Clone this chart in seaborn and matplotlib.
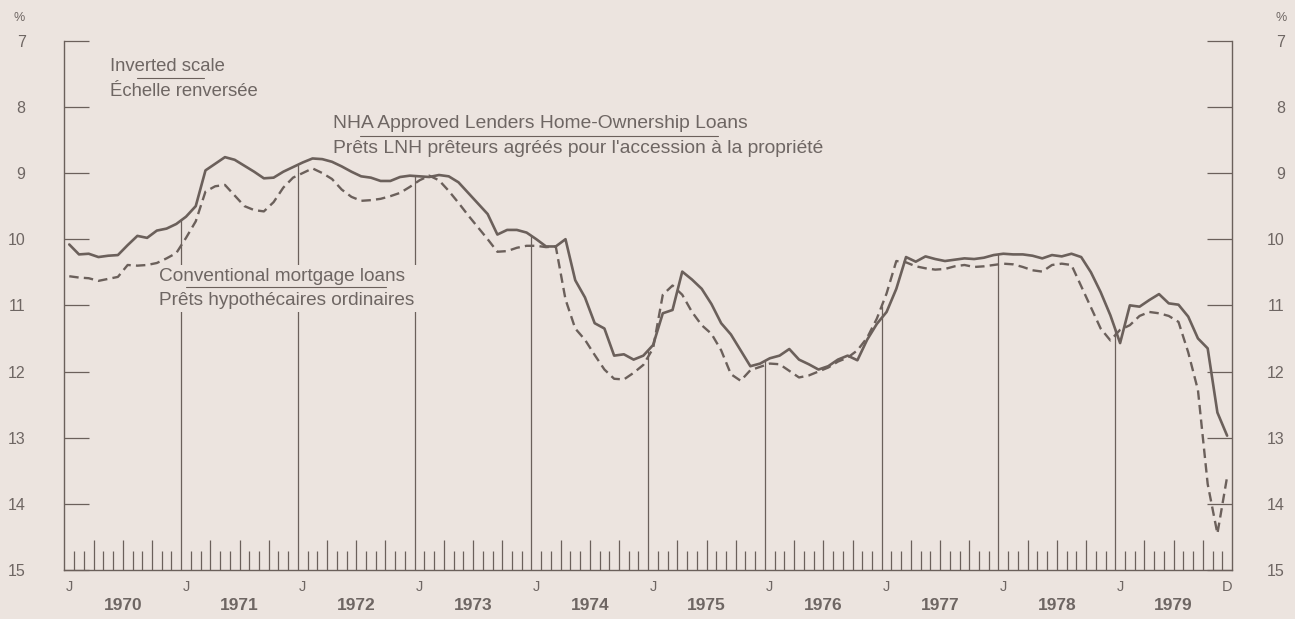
import numpy as np
import pandas as pd
import matplotlib
matplotlib.use('Agg')
import matplotlib.pyplot as plt
import seaborn as sns

# monthly rates, Jan 1970 .. Dec 1979 (percent)
years = list(range(1970, 1980))
nha = [10.08, 10.23, 10.22, 10.27, 10.25, 10.24, 10.09, 9.95, 9.98, 9.87, 9.84, 9.77,
       9.66, 9.50, 8.96, 8.86, 8.76, 8.80, 8.89, 8.98, 9.08, 9.07, 8.98, 8.91,
       8.84, 8.78, 8.79, 8.83, 8.90, 8.98, 9.05, 9.07, 9.12, 9.12, 9.06, 9.04,
       9.05, 9.06, 9.03, 9.05, 9.14, 9.30, 9.46, 9.62, 9.93, 9.86, 9.86, 9.90,
       10.00, 10.11, 10.11, 10.00, 10.62, 10.88, 11.27, 11.35, 11.76, 11.74, 11.82, 11.76,
       11.60, 11.12, 11.07, 10.49, 10.61, 10.75, 10.98, 11.27, 11.44, 11.68, 11.92, 11.88,
       11.80, 11.76, 11.66, 11.82, 11.89, 11.97, 11.92, 11.82, 11.76, 11.83, 11.52, 11.28,
       11.10, 10.75, 10.27, 10.34, 10.26, 10.30, 10.33, 10.31, 10.29, 10.30, 10.28, 10.24,
       10.22, 10.23, 10.23, 10.25, 10.29, 10.24, 10.26, 10.22, 10.27, 10.50, 10.80, 11.15,
       11.57, 11.00, 11.02, 10.92, 10.83, 10.97, 10.99, 11.17, 11.50, 11.65, 12.62, 12.97]
conventional = [10.56, 10.58, 10.59, 10.63, 10.60, 10.57, 10.39, 10.40, 10.39, 10.36, 10.29, 10.21,
                9.98, 9.73, 9.28, 9.20, 9.18, 9.34, 9.50, 9.56, 9.58, 9.44, 9.22, 9.07,
                9.00, 8.93, 9.00, 9.09, 9.25, 9.36, 9.42, 9.41, 9.39, 9.35, 9.30, 9.21,
                9.11, 9.04, 9.11, 9.27, 9.45, 9.64, 9.82, 10.00, 10.19, 10.18, 10.13, 10.10,
                10.10, 10.12, 10.11, 10.91, 11.35, 11.52, 11.75, 11.97, 12.11, 12.12, 12.02, 11.90,
                11.65, 10.84, 10.70, 10.84, 11.10, 11.30, 11.43, 11.68, 12.04, 12.14, 11.98, 11.93,
                11.88, 11.89, 11.99, 12.09, 12.06, 12.00, 11.94, 11.85, 11.79, 11.68, 11.49, 11.20,
                10.82, 10.33, 10.35, 10.41, 10.44, 10.46, 10.45, 10.41, 10.39, 10.42, 10.41, 10.39,
                10.37, 10.38, 10.42, 10.47, 10.49, 10.39, 10.37, 10.39, 10.71, 11.03, 11.35, 11.53,
                11.37, 11.30, 11.16, 11.10, 11.12, 11.16, 11.25, 11.71, 12.28, 13.70, 14.45, 13.59]

BG = '#ECE4DF'
INK = '#6B605B'
TXT = '#6E6663'

sns.set_style('white')
plt.rcParams['font.family'] = ['Liberation Sans', 'DejaVu Sans']

df = pd.DataFrame({'month': np.arange(len(nha)) + 0.5, 'nha': nha, 'conv': conventional})

W, H = 1295, 619
fig = plt.figure(figsize=(W / 100, H / 100), dpi=100, facecolor=BG)
ax = fig.add_axes([64.4 / W, 1 - 570 / H, (1232 - 64.4) / W, (570 - 40.7) / H])
ax.set_facecolor(BG)

sns.lineplot(data=df, x='month', y='nha', ax=ax, color=INK, lw=1.9, zorder=3)
sns.lineplot(data=df, x='month', y='conv', ax=ax, color=INK, lw=1.7,
             linestyle=(0, (4, 2.2)), zorder=3)

# january lines up to the curves
jan = np.arange(12, 120, 12)
top = np.minimum(np.interp(jan, df.month, df.nha), np.interp(jan, df.month, df.conv))
ax.vlines(jan, top, 15, color=INK, lw=0.9, zorder=2)

# month ticks along the base, longer at quarters
m = np.array([k for k in range(1, 120) if k % 12])
h = np.where(m % 3 == 0, 0.45, 0.28)
ax.vlines(m, 15 - h, 15, color=INK, lw=0.9, zorder=2)

ax.set_xlim(0, 120)
ax.set_ylim(15, 7)
ax.set_xlabel('')
ax.set_ylabel('')
ax.spines['top'].set_visible(False)
for s in ['left', 'right', 'bottom']:
    ax.spines[s].set_color(INK)
    ax.spines[s].set_linewidth(1.0)

ax.set_yticks(range(7, 16))
ax.tick_params(axis='y', direction='in', length=18, width=0.9, color=INK,
               pad=28, labelsize=11.5, labelcolor=TXT)

ax.set_xticks(list(jan - 11.5) + [jan[-1] + 0.5, 119.5], ['J'] * 10 + ['D'])
ax.set_xticks(np.arange(6, 120, 12), [str(y) for y in years], minor=True)
ax.tick_params(axis='x', which='major', length=0, pad=7, labelsize=10.5, labelcolor=TXT)
ax.tick_params(axis='x', which='minor', length=0, pad=20, labelsize=12.5, labelcolor=TXT)
for lab in ax.get_xticklabels(minor=True):
    lab.set_fontweight('bold')

ax2 = ax.twinx()
ax2.set_ylim(15, 7)
ax2.set_yticks(range(7, 16))
ax2.tick_params(axis='y', direction='in', length=18, width=0.9, color=INK,
                pad=38, labelsize=11.5, labelcolor=TXT)
for lab in ax2.get_yticklabels():
    lab.set_horizontalalignment('right')
for s in ax2.spines.values():
    s.set_visible(False)

fig.text(25 / W, 1 - 18 / H, '%', ha='right', va='center', fontsize=9, color=TXT)
fig.text(1287 / W, 1 - 18 / H, '%', ha='right', va='center', fontsize=9, color=TXT)

# labels
fs = 13.9
ax.text(4.69, 7.465, 'Inverted scale', fontsize=13.3, color=TXT, va='baseline')
ax.text(4.69, 7.83, 'Échelle renversée', fontsize=13.3, color=TXT, va='baseline')
ax.plot([7.43, 14.35], [7.568, 7.568], color=INK, lw=0.8)

ax.text(27.64, 8.324, 'NHA Approved Lenders Home-Ownership Loans', fontsize=fs, color=TXT, va='baseline')
ax.text(27.64, 8.70, "Prêts LNH prêteurs agréés pour l'accession à la propriété",
        fontsize=fs, color=TXT, va='baseline')
ax.plot([30.38, 67.14], [8.436, 8.436], color=INK, lw=0.8)

# va='baseline' anchors the last line of a multi-line text
ax.text(9.75, 10.995, 'Conventional mortgage loans\nPrêts hypothécaires ordinaires',
        fontsize=13.7, color=TXT, va='baseline', linespacing=1.55, zorder=4,
        bbox=dict(facecolor=BG, edgecolor='none', pad=2))
ax.plot([12.47, 33.02], [10.718, 10.718], color=INK, lw=0.8, zorder=5)

fig.savefig('out.png', dpi=100, facecolor=BG)
